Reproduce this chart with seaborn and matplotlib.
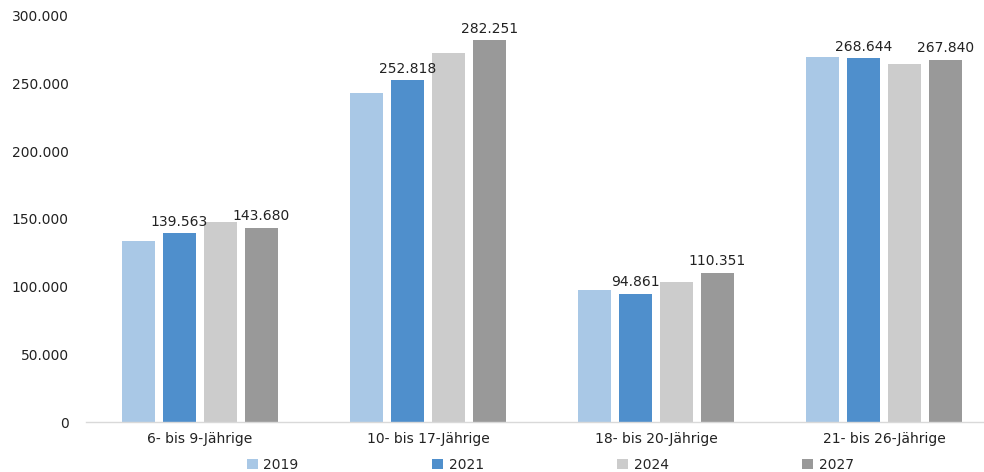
import matplotlib
matplotlib.use("Agg")
import matplotlib.pyplot as plt
import seaborn as sns
import pandas as pd
from matplotlib.ticker import FuncFormatter

categories = ["6- bis 9-Jährige", "10- bis 17-Jährige", "18- bis 20-Jährige", "21- bis 26-Jährige"]
years = ["2019", "2021", "2024", "2027"]
v2019 = [134000, 243000, 97500, 270000]
v2021 = [139563, 252818, 94861, 268644]
v2024 = [147500, 273000, 103500, 264500]
v2027 = [143680, 282251, 110351, 267840]
labeled_years = ["2021", "2027"]
colors = ["#A9C8E6", "#4F8FCC", "#CCCCCC", "#999999"]

rows = []
for y, vals in zip(years, [v2019, v2021, v2024, v2027]):
    for c, v in zip(categories, vals):
        rows.append({"Kategorie": c, "Jahr": y, "Wert": v})
df = pd.DataFrame(rows)

sns.set_theme(style="white")
plt.rcParams["font.family"] = ["DejaVu Sans"]

fig = plt.figure(figsize=(9.84, 4.72), dpi=100)
ax = fig.add_axes([86/984, 1-422/472, 912/984, (422-16)/472])

sns.barplot(data=df, x="Kategorie", y="Wert", hue="Jahr", order=categories,
            hue_order=years, palette=colors, width=0.72, gap=0.2,
            saturation=1, ax=ax, legend=True, errorbar=None, linewidth=0)

def de(v):
    return f"{int(round(v)):,}".replace(",", ".")

for cont, y in zip(ax.containers, years):
    if y in labeled_years:
        ax.bar_label(cont, labels=[de(b.get_height()) for b in cont],
                     padding=3, fontsize=10, color="#222222")

ax.set_ylim(0, 300000)
ax.set_xlim(-0.5, 3.5)
ax.set_yticks(range(0, 300001, 50000))
ax.yaxis.set_major_formatter(FuncFormatter(lambda v, p: de(v)))
ax.tick_params(axis="y", labelsize=10, colors="#222222", length=0, pad=12.5)
ax.tick_params(axis="x", labelsize=10, colors="#222222", length=0, pad=7)
ax.set_xlabel("")
ax.set_ylabel("")
for s in ["top", "right", "left"]:
    ax.spines[s].set_visible(False)
ax.spines["bottom"].set_color("#D9D9D9")
ax.spines["bottom"].set_linewidth(1)

ax.legend(loc="upper left", bbox_to_anchor=(0.17, -0.075), ncol=4, frameon=False,
          fontsize=10, handlelength=0.8, handleheight=0.8, handletextpad=0.4,
          columnspacing=9.6, borderaxespad=0)

fig.savefig("out.png", dpi=100)
